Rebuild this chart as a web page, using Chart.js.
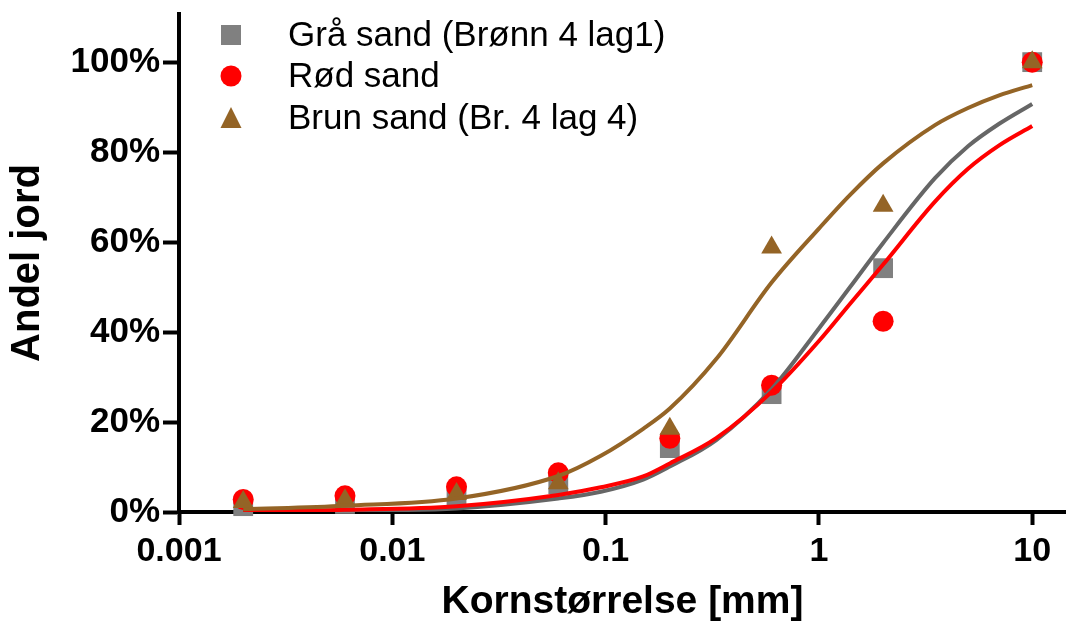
<!DOCTYPE html>
<html>
<head>
<meta charset="utf-8">
<script src="https://cdn.jsdelivr.net/npm/chart.js@4.4.1/dist/chart.umd.min.js"></script>
<style>
  body { margin: 0; background: #fff; }
  #wrap { width: 1066px; height: 626px; position: relative; }
</style>
</head>
<body>
<div id="wrap"><canvas id="kornfordeling"></canvas></div>
<script>
// Målte punkter (andel i %)
const punktX = [0.002, 0.006, 0.02, 0.06, 0.2, 0.6, 2, 10];
const graaPunkt = [1.3, 1.8, 3.4, 6.2, 14.2, 26.2, 54.2, 100];
const roedPunkt = [2.8, 3.6, 5.6, 8.7, 16.4, 28.2, 42.4, 100];
const brunPunkt = [2.2, 2.6, 4.0, 6.4, 18.5, 58.8, 68.1, 100];

// Tilpassede kurver
const kurveX = [0.002, 0.006, 0.02, 0.06, 0.095, 0.15, 0.2, 0.33, 0.6, 1, 1.4, 2, 3.5, 5, 7, 10];
const graaKurve = [0.1, 0.3, 0.8, 3.0, 4.5, 7.2, 10.1, 16.0, 27.3, 40.8, 50.0, 59.8, 74.2, 81.3, 86.3, 90.7];
const roedKurve = [0.2, 0.5, 1.3, 3.8, 5.5, 7.9, 10.8, 16.4, 26.7, 38.0, 46.3, 55.0, 69.0, 76.3, 81.5, 85.8];
const brunKurve = [0.6, 1.4, 3.0, 8.0, 12.5, 18.5, 23.0, 34.0, 51.0, 63.0, 70.5, 77.5, 86.0, 89.8, 92.6, 94.9];

const xTicks = [0.001, 0.01, 0.1, 1, 10];
const yTicks = [0, 20, 40, 60, 80, 100];

const FONT = 'Arial, "Liberation Sans", sans-serif';

const par = (xs, ys) => xs.map((x, i) => ({ x, y: ys[i] }));

function punktSett(label, data, farge, form, radius, order) {
    return {
        label, data: par(punktX, data), showLine: false,
        backgroundColor: farge, borderColor: farge, borderWidth: 0,
        pointStyle: form, pointRadius: radius, pointHoverRadius: radius,
        order, clip: false
    };
}
function kurveSett(data, farge, order) {
    return {
        label: '', data: par(kurveX, data), showLine: true,
        borderColor: farge, borderWidth: 4, pointRadius: 0, pointHoverRadius: 0,
        cubicInterpolationMode: 'monotone', fill: false, order
    };
}

// Egen forklaring øverst til venstre
const forklaring = {
    id: 'forklaring',
    afterDraw(chart) {
        const ctx = chart.ctx;
        const rader = [38, 79, 121];
        ctx.save();
        chart.data.datasets.filter(d => d.label).forEach((d, i) => {
            const y = rader[i], x = 231;
            ctx.fillStyle = d.backgroundColor;
            ctx.beginPath();
            if (d.pointStyle === 'rect') {
                ctx.rect(x - 10, y - 13, 20, 20);
            } else if (d.pointStyle === 'circle') {
                ctx.arc(x, y - 3, 10.5, 0, Math.PI * 2);
            } else {
                ctx.moveTo(x, y - 14);
                ctx.lineTo(x + 10.5, y + 7);
                ctx.lineTo(x - 10.5, y + 7);
                ctx.closePath();
            }
            ctx.fill();
            ctx.fillStyle = '#000';
            ctx.font = '35px ' + FONT;
            ctx.textBaseline = 'middle';
            ctx.textAlign = 'left';
            ctx.fillText(d.label, 288, y - 2);
        });
        ctx.restore();
    }
};

new Chart(document.getElementById('kornfordeling'), {
    type: 'scatter',
    data: {
        datasets: [
            punktSett('Grå sand (Brønn 4 lag1)', graaPunkt, '#808080', 'rect', 14, 6),
            punktSett('Rød sand', roedPunkt, '#ff0000', 'circle', 10.5, 5),
            punktSett('Brun sand (Br. 4 lag 4)', brunPunkt, '#946426', 'triangle', 12, 4),
            kurveSett(graaKurve, '#666666', 3),
            kurveSett(roedKurve, '#ff0000', 2),
            kurveSett(brunKurve, '#946426', 1)
        ]
    },
    options: {
        responsive: true,
        maintainAspectRatio: false,
        animation: false,
        layout: { autoPadding: false, padding: { top: 14, right: 0, left: 0, bottom: 0 } },
        plugins: { legend: { display: false }, tooltip: { enabled: false } },
        scales: {
            x: {
                type: 'logarithmic',
                min: 0.001,
                max: 14.4,
                afterBuildTicks: s => { s.ticks = xTicks.map(v => ({ value: v })); },
                afterFit: s => { s.height = 114; s.paddingLeft = 0; s.paddingRight = 0; },
                border: { display: true, color: '#000', width: 4 },
                grid: { display: true, drawOnChartArea: false, drawTicks: true, tickLength: 13, tickWidth: 4, tickColor: '#000' },
                ticks: {
                    color: '#000', padding: 6, maxRotation: 0, autoSkip: false,
                    font: { family: FONT, size: 34, weight: 'bold' },
                    callback: v => String(v)
                },
                title: {
                    display: true, text: 'Kornstørrelse [mm]', color: '#000',
                    font: { family: FONT, size: 39, weight: 'bold' },
                    padding: { top: 0, bottom: 0 }
                }
            },
            y: {
                min: 0,
                max: 110.7,
                afterBuildTicks: s => { s.ticks = yTicks.map(v => ({ value: v })); },
                afterFit: s => { s.width = 179; s.paddingTop = 0; s.paddingBottom = 0; },
                border: { display: true, color: '#000', width: 4 },
                grid: { display: true, drawOnChartArea: false, drawTicks: true, tickLength: 16, tickWidth: 4, tickColor: '#000' },
                ticks: {
                    color: '#000', padding: 3,
                    font: { family: FONT, size: 35, weight: 'bold' },
                    callback: v => v + '%'
                },
                title: {
                    display: true, text: 'Andel jord', color: '#000',
                    font: { family: FONT, size: 40, weight: 'bold' },
                    padding: { top: 4, bottom: 0 }
                }
            }
        }
    },
    plugins: [forklaring]
});
</script>
</body>
</html>
